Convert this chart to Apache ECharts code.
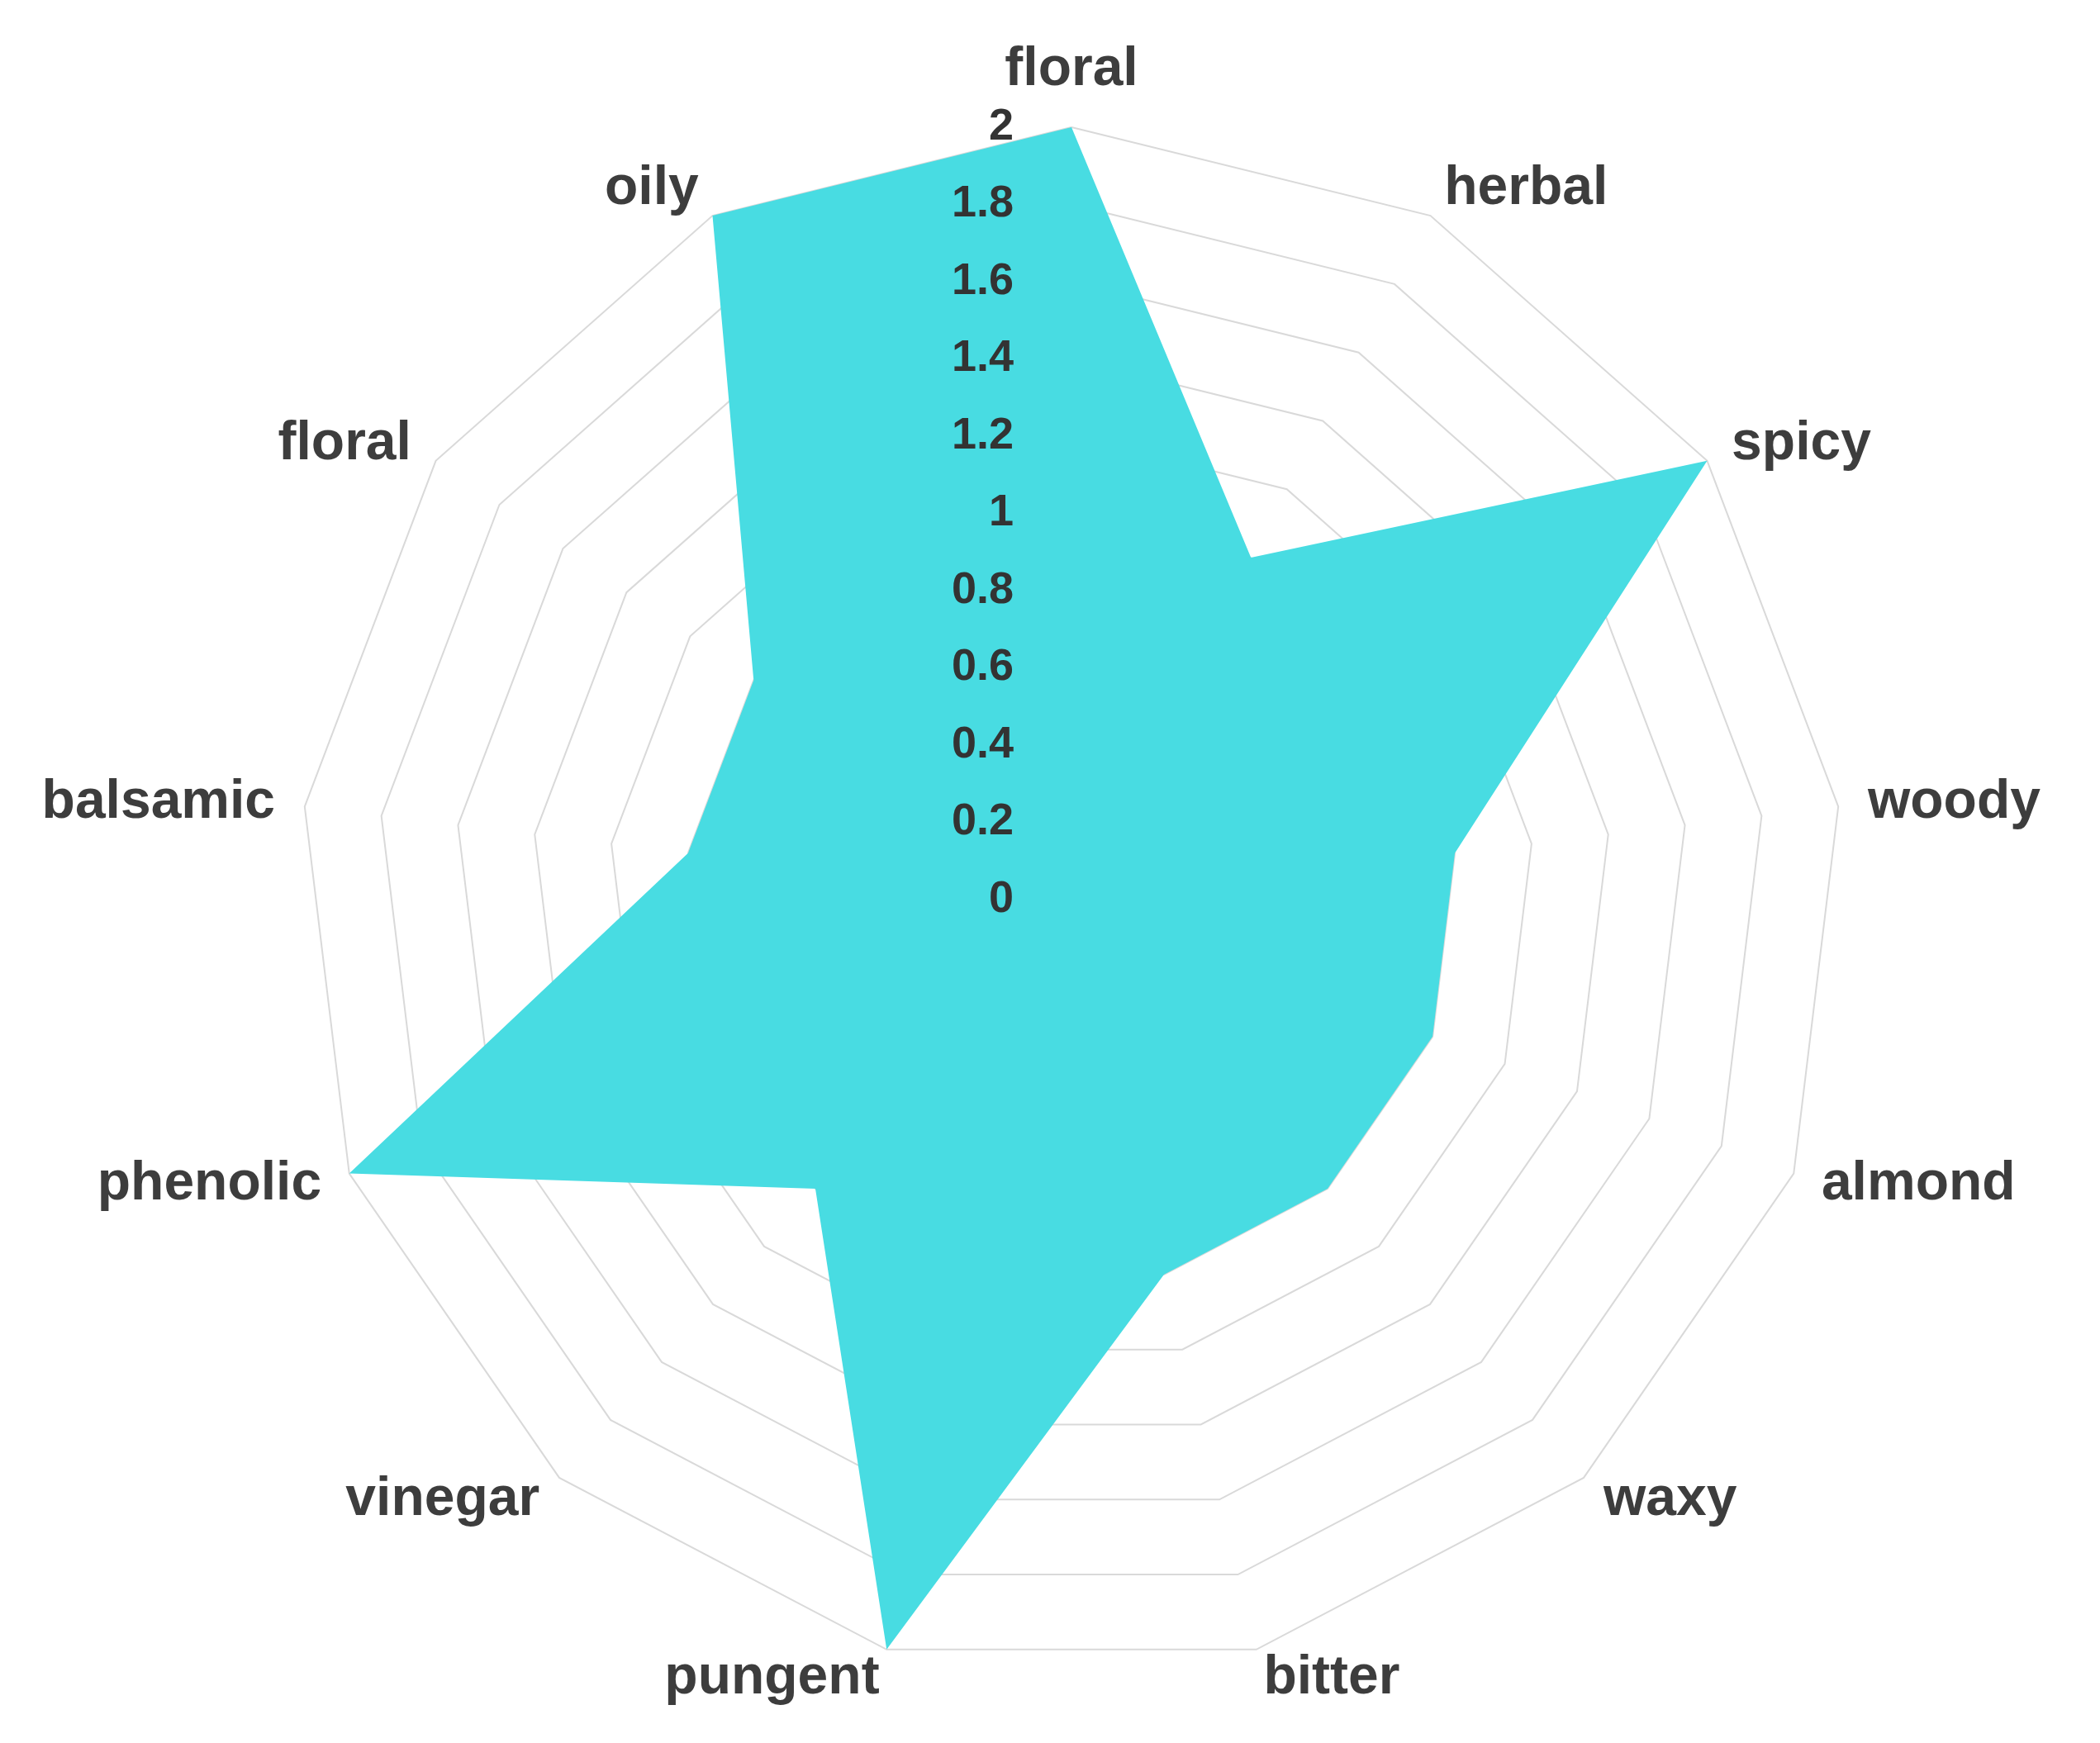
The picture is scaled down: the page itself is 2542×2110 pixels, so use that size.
<!DOCTYPE html>
<html>
<head>
<meta charset="utf-8">
<script src="https://cdn.jsdelivr.net/npm/echarts@6/dist/echarts.min.js"></script>
<style>
  html, body { margin: 0; padding: 0; background: #fff; }
  #chart { width: 2542px; height: 2110px; }
</style>
</head>
<body>
<div id="chart"></div>
<script>
// odour attributes, read clockwise from the top
const attributes = ['floral', 'herbal', 'spicy', 'woody', 'almond', 'waxy', 'bitter',
  'pungent', 'vinegar', 'phenolic', 'balsamic', 'floral', 'oily'];
const intensity = [2, 1, 2, 1, 1, 1, 1, 2, 1, 2, 1, 1, 2];
const scaleMin = 0;
const scaleMax = 2;
const scaleSteps = 10; // ticks 0, 0.2 ... 2

// echarts lays indicators out counter-clockwise, so keep the first one and reverse the rest
const order = [0];
for (let i = attributes.length - 1; i > 0; i--) order.push(i);

const labelFont = 'Liberation Sans, Arial, sans-serif';

function buildIndicators(withLabels) {
  return order.map(function (idx, i) {
    const item = { name: attributes[idx], min: scaleMin, max: scaleMax };
    if (withLabels && i === 0) {
      item.axisLabel = {
        show: true,
        color: '#333',
        fontSize: 54,
        fontWeight: 'bold',
        fontFamily: labelFont,
        margin: 70
      };
    }
    return item;
  });
}

const chart = echarts.init(document.getElementById('chart'));

const radarBase = {
  center: [1297, 1089],
  radius: 935,
  startAngle: 90,
  shape: 'polygon',
  splitNumber: scaleSteps,
  axisLine: { show: false },
  axisTick: { show: false },
  axisLabel: { show: false },
  splitArea: { show: false }
};

chart.setOption({
  backgroundColor: '#fff',
  radar: [
    // grid rings and names, under the filled area
    Object.assign({}, radarBase, {
      z: 0,
      indicator: buildIndicators(false),
      axisName: {
        color: '#3d3d3d',
        fontSize: 66,
        fontWeight: 'bold',
        fontFamily: labelFont
      },
      nameGap: 36,
      splitLine: { lineStyle: { color: '#d9d9d9', width: 2 } }
    }),
    // value labels on the top axis, drawn above the filled area
    Object.assign({}, radarBase, {
      z: 10,
      indicator: buildIndicators(true),
      axisName: { show: false },
      splitLine: { show: false }
    })
  ],
  series: [{
    type: 'radar',
    radarIndex: 0,
    symbol: 'none',
    z: 2,
    lineStyle: { width: 0 },
    areaStyle: { color: '#48dce2', opacity: 1 },
    data: [{ value: order.map(function (idx) { return intensity[idx]; }) }]
  }]
});
</script>
</body>
</html>
